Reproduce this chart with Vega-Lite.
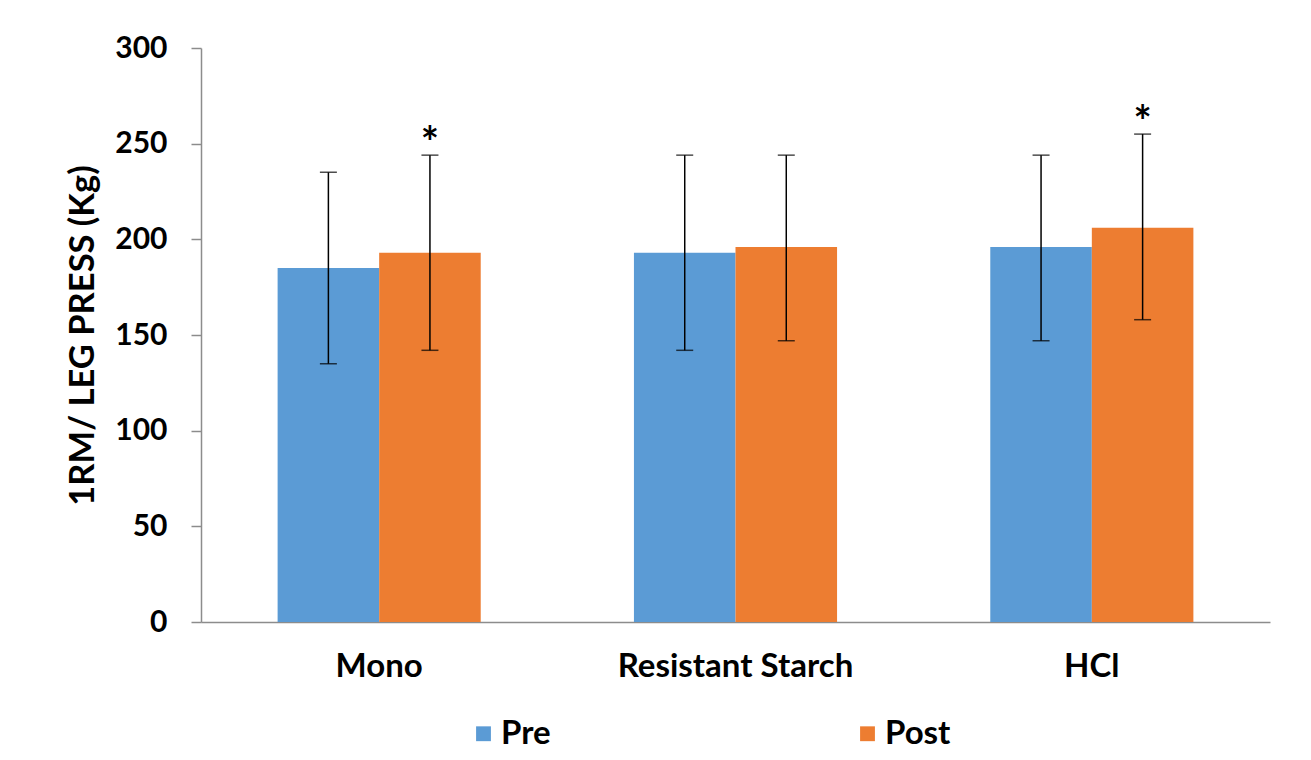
{
  "$schema": "https://vega.github.io/schema/vega-lite/v6.json",
  "width": 1069,
  "height": 574,
  "autosize": "none",
  "padding": {"left": 201, "top": 48, "right": 41, "bottom": 138},
  "background": "white",
  "config": {
    "view": {"stroke": null},
    "font": "Lato",
    "axis": {"grid": false, "domainColor": "#8c8c8c", "tickColor": "#8c8c8c", "labelColor": "black", "titleColor": "black", "labelFont": "Lato", "titleFont": "Lato"},
    "legend": {"labelFont": "Lato"}
  },
  "data": {
    "values": [
      {"group": "Mono", "phase": "Pre", "mean": 185, "lo": 135, "hi": 235, "sig": ""},
      {"group": "Mono", "phase": "Post", "mean": 193, "lo": 142, "hi": 244, "sig": "*"},
      {"group": "Resistant Starch", "phase": "Pre", "mean": 193, "lo": 142, "hi": 244, "sig": ""},
      {"group": "Resistant Starch", "phase": "Post", "mean": 196, "lo": 147, "hi": 244, "sig": ""},
      {"group": "HCl", "phase": "Pre", "mean": 196, "lo": 147, "hi": 244, "sig": ""},
      {"group": "HCl", "phase": "Post", "mean": 206, "lo": 158, "hi": 255, "sig": "*"}
    ]
  },
  "encoding": {
    "x": {
      "field": "group", "type": "nominal", "sort": ["Mono", "Resistant Starch", "HCl"],
      "scale": {"paddingInner": 0.43, "paddingOuter": 0.215},
      "axis": {"title": null, "labelAngle": 0, "ticks": false, "labelFontSize": 33, "labelFontWeight": "bold", "labelPadding": 28, "labelLimit": 500, "domainWidth": 1.5}
    },
    "xOffset": {"field": "phase", "type": "nominal", "sort": ["Pre", "Post"]}
  },
  "layer": [
    {
      "mark": {"type": "bar"},
      "encoding": {
        "y": {
          "field": "mean", "type": "quantitative",
          "scale": {"domain": [0, 300]},
          "axis": {"values": [0, 50, 100, 150, 200, 250, 300], "title": "1RM/ LEG PRESS (Kg)", "titleFontSize": 34.5, "titleFontWeight": "bold", "titlePadding": 14, "labelFontSize": 30, "labelFontWeight": "bold", "labelPadding": 24, "tickSize": 10, "domainWidth": 1.5, "tickWidth": 1.5}
        },
        "color": {
          "field": "phase", "type": "nominal", "sort": ["Pre", "Post"],
          "scale": {"domain": ["Pre", "Post"], "range": ["#5B9BD5", "#ED7D31"]},
          "legend": {"title": null, "orient": "none", "direction": "horizontal", "legendX": 266, "legendY": 669, "symbolType": "square", "symbolSize": 220, "symbolStrokeWidth": 0, "labelFontSize": 33, "labelFontWeight": "bold", "labelColor": "black", "columnPadding": 300, "symbolOffset": 0, "labelOffset": 1}
        }
      }
    },
    {
      "mark": {"type": "rule", "color": "black", "strokeWidth": 1.5},
      "encoding": {
        "y": {"field": "lo", "type": "quantitative"},
        "y2": {"field": "hi"}
      }
    },
    {
      "mark": {"type": "tick", "color": "black", "size": 17, "thickness": 1.5, "orient": "horizontal"},
      "encoding": {"y": {"field": "lo", "type": "quantitative"}}
    },
    {
      "mark": {"type": "tick", "color": "black", "size": 17, "thickness": 1.5, "orient": "horizontal"},
      "encoding": {"y": {"field": "hi", "type": "quantitative"}}
    },
    {
      "transform": [{"filter": "datum.sig != ''"}],
      "mark": {"type": "text", "fontSize": 43, "fontWeight": "bold", "color": "black", "baseline": "middle", "dy": -10},
      "encoding": {
        "y": {"field": "hi", "type": "quantitative"},
        "text": {"field": "sig"}
      }
    }
  ]
}
